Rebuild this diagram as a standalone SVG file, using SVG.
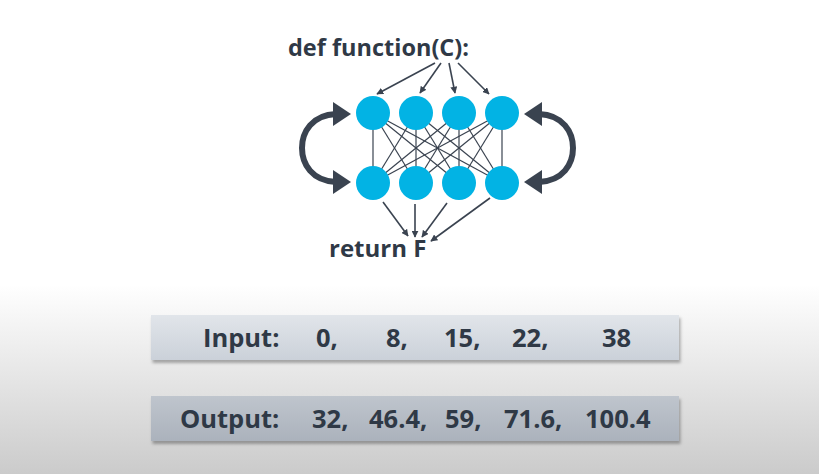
<svg xmlns="http://www.w3.org/2000/svg" width="819" height="474" viewBox="0 0 819 474">
  <defs>
    <linearGradient id="bg" x1="0" y1="0" x2="0" y2="1">
      <stop offset="0" stop-color="#ffffff"/>
      <stop offset="0.6" stop-color="#ffffff"/>
      <stop offset="1" stop-color="#cbcbcb"/>
    </linearGradient>
    <linearGradient id="inbox" x1="0" y1="0" x2="0" y2="1">
      <stop offset="0" stop-color="#e1e5ea"/>
      <stop offset="1" stop-color="#cbd1d9"/>
    </linearGradient>
    <linearGradient id="outbox" x1="0" y1="0" x2="0" y2="1">
      <stop offset="0" stop-color="#bfc5cd"/>
      <stop offset="1" stop-color="#abb2bc"/>
    </linearGradient>
    <filter id="shadow" x="-5%" y="-20%" width="110%" height="150%">
      <feDropShadow dx="1.5" dy="3" stdDeviation="1.5" flood-color="#000" flood-opacity="0.3"/>
    </filter>
    <marker id="ah" viewBox="0 0 10 10" refX="9" refY="5" markerWidth="7" markerHeight="7" markerUnits="userSpaceOnUse" orient="auto">
      <path d="M0,0 L10,5 L0,10 z" fill="#3a4350"/>
    </marker>
  </defs>
  <style>
    .t { font-family: "Open Sans", "Noto Sans", sans-serif; font-weight: 700; fill: #2f3946; }
    .box { font-size: 25.5px; font-weight: 700; }
    .node { fill: #02b3e4; }
    .edge { stroke: #3a4350; stroke-width: 1.2; fill: none; }
    .arr { stroke: #3a4350; stroke-width: 1.6; fill: none; marker-end: url(#ah); }
    .loop { stroke: #3a4350; stroke-width: 6; fill: none; }
    .head { fill: #3a4350; }
  </style>
  <rect width="819" height="474" fill="url(#bg)"/>

  <text class="t" x="288" y="56" font-size="23.5">def function(C):</text>
  <text class="t" x="329" y="257" font-size="24">return F</text>

  <g id="connectors">
    <line class="edge" x1="373" y1="113" x2="373" y2="183"/>
    <line class="edge" x1="373" y1="113" x2="416" y2="183"/>
    <line class="edge" x1="373" y1="113" x2="459" y2="183"/>
    <line class="edge" x1="373" y1="113" x2="502" y2="183"/>
    <line class="edge" x1="416" y1="113" x2="373" y2="183"/>
    <line class="edge" x1="416" y1="113" x2="416" y2="183"/>
    <line class="edge" x1="416" y1="113" x2="459" y2="183"/>
    <line class="edge" x1="416" y1="113" x2="502" y2="183"/>
    <line class="edge" x1="459" y1="113" x2="373" y2="183"/>
    <line class="edge" x1="459" y1="113" x2="416" y2="183"/>
    <line class="edge" x1="459" y1="113" x2="459" y2="183"/>
    <line class="edge" x1="459" y1="113" x2="502" y2="183"/>
    <line class="edge" x1="502" y1="113" x2="373" y2="183"/>
    <line class="edge" x1="502" y1="113" x2="416" y2="183"/>
    <line class="edge" x1="502" y1="113" x2="459" y2="183"/>
    <line class="edge" x1="502" y1="113" x2="502" y2="183"/>
    <line class="arr" x1="435" y1="63" x2="377" y2="94"/>
    <line class="arr" x1="441" y1="63" x2="420" y2="93"/>
    <line class="arr" x1="449" y1="63" x2="455" y2="93"/>
    <line class="arr" x1="458" y1="63" x2="489" y2="94"/>
    <line class="arr" x1="383" y1="202" x2="408" y2="236"/>
    <line class="arr" x1="415" y1="204" x2="415" y2="237"/>
    <line class="arr" x1="447" y1="203" x2="422" y2="237"/>
    <line class="arr" x1="490" y1="198" x2="431" y2="241"/>
    <path class="loop" d="M336,114 C312,115 302,132 302,148 C302,164 312,181 336,182"/>
    <path class="head" d="M333,102 L351,114 L333,126 z"/>
    <path class="head" d="M333,170 L351,182 L333,194 z"/>
    <path class="loop" d="M539,114 C563,115 573,132 573,148 C573,164 563,181 539,182"/>
    <path class="head" d="M542,102 L524,114 L542,126 z"/>
    <path class="head" d="M542,170 L524,182 L542,194 z"/>
  </g>

  <g id="n1"><circle class="node" cx="373" cy="113" r="17"/></g>
  <g id="n2"><circle class="node" cx="416" cy="113" r="17"/></g>
  <g id="n3"><circle class="node" cx="459" cy="113" r="17"/></g>
  <g id="n4"><circle class="node" cx="502" cy="113" r="17"/></g>
  <g id="n5"><circle class="node" cx="373" cy="183" r="17"/></g>
  <g id="n6"><circle class="node" cx="416" cy="183" r="17"/></g>
  <g id="n7"><circle class="node" cx="459" cy="183" r="17"/></g>
  <g id="n8"><circle class="node" cx="502" cy="183" r="17"/></g>

  <g id="input">
    <rect x="151" y="315" width="528" height="45" fill="url(#inbox)" filter="url(#shadow)"/>
    <text class="t box" y="347">
      <tspan x="203">Input:</tspan><tspan x="316">0,</tspan><tspan x="386">8,</tspan><tspan x="444">15,</tspan><tspan x="512">22,</tspan><tspan x="602">38</tspan>
    </text>
  </g>
  <g id="output">
    <rect x="151" y="396" width="528" height="45" fill="url(#outbox)" filter="url(#shadow)"/>
    <text class="t box" y="428">
      <tspan x="180">Output:</tspan><tspan x="312">32,</tspan><tspan x="369">46.4,</tspan><tspan x="445">59,</tspan><tspan x="504">71.6,</tspan><tspan x="585">100.4</tspan>
    </text>
  </g>
</svg>
